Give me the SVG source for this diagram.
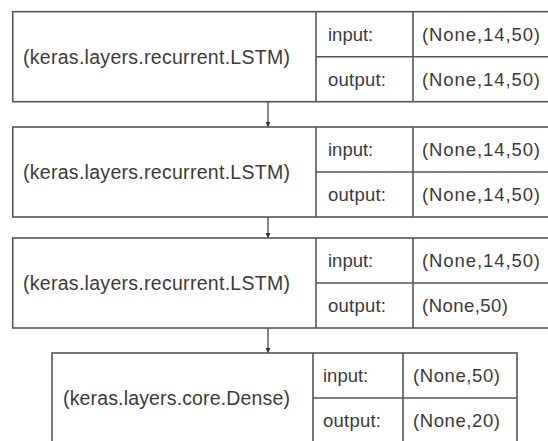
<svg xmlns="http://www.w3.org/2000/svg" width="548" height="441" viewBox="0 0 548 441">
<defs>
<style>
.box{fill:#fff;stroke:#555;stroke-width:1.6}
.ln{stroke:#555;stroke-width:1.6;fill:none}
.t{font-family:"Liberation Sans",Arial,sans-serif;font-size:18.5px;fill:#3a3a3a;dominant-baseline:central}
.lbl{font-size:19.5px}
.conn{stroke:#444;stroke-width:1.3;fill:none}
</style>
<marker id="ah" viewBox="0 0 10 10" refX="10" refY="5" markerWidth="5" markerHeight="5" orient="auto" markerUnits="userSpaceOnUse">
<path d="M0,0 L10,5 L0,10 z" fill="#333"/>
</marker>
</defs>
<rect width="548" height="441" fill="#fff"/>
<g id="connectors">
<line class="conn" x1="268" y1="102" x2="268" y2="127" marker-end="url(#ah)"/>
<line class="conn" x1="268" y1="217" x2="268" y2="238" marker-end="url(#ah)"/>
<line class="conn" x1="268" y1="328" x2="268" y2="353" marker-end="url(#ah)"/>
</g>
<g id="lstm1">
<rect class="box" x="12.7" y="11.7" width="540" height="90"/>
<line class="ln" x1="316" y1="11.7" x2="316" y2="101.7"/>
<line class="ln" x1="413" y1="11.7" x2="413" y2="101.7"/>
<line class="ln" x1="316" y1="56.7" x2="550" y2="56.7"/>
<text class="t lbl" x="23" y="57" textLength="267" lengthAdjust="spacing">(keras.layers.recurrent.LSTM)</text>
<text class="t" x="328" y="34">input:</text>
<text class="t" x="422" y="34" textLength="118" lengthAdjust="spacing">(None,14,50)</text>
<text class="t" x="328" y="79" textLength="58" lengthAdjust="spacing">output:</text>
<text class="t" x="422" y="79" textLength="118" lengthAdjust="spacing">(None,14,50)</text>
</g>
<g id="lstm2">
<rect class="box" x="12.7" y="127" width="540" height="90"/>
<line class="ln" x1="316" y1="127" x2="316" y2="217"/>
<line class="ln" x1="413" y1="127" x2="413" y2="217"/>
<line class="ln" x1="316" y1="172" x2="550" y2="172"/>
<text class="t lbl" x="23" y="172" textLength="267" lengthAdjust="spacing">(keras.layers.recurrent.LSTM)</text>
<text class="t" x="328" y="149.5">input:</text>
<text class="t" x="422" y="149.5" textLength="118" lengthAdjust="spacing">(None,14,50)</text>
<text class="t" x="328" y="194.5" textLength="58" lengthAdjust="spacing">output:</text>
<text class="t" x="422" y="194.5" textLength="118" lengthAdjust="spacing">(None,14,50)</text>
</g>
<g id="lstm3">
<rect class="box" x="12.7" y="238" width="540" height="90"/>
<line class="ln" x1="316" y1="238" x2="316" y2="328"/>
<line class="ln" x1="413" y1="238" x2="413" y2="328"/>
<line class="ln" x1="316" y1="283" x2="550" y2="283"/>
<text class="t lbl" x="23" y="283" textLength="267" lengthAdjust="spacing">(keras.layers.recurrent.LSTM)</text>
<text class="t" x="328" y="260.5">input:</text>
<text class="t" x="422" y="260.5" textLength="118" lengthAdjust="spacing">(None,14,50)</text>
<text class="t" x="328" y="305.5" textLength="58" lengthAdjust="spacing">output:</text>
<text class="t" x="422" y="305.5" textLength="86" lengthAdjust="spacing">(None,50)</text>
</g>
<g id="dense">
<rect class="box" x="52" y="353" width="465" height="90"/>
<line class="ln" x1="313" y1="353" x2="313" y2="443"/>
<line class="ln" x1="403" y1="353" x2="403" y2="443"/>
<line class="ln" x1="313" y1="398" x2="517" y2="398"/>
<text class="t lbl" x="63" y="398" textLength="227" lengthAdjust="spacing">(keras.layers.core.Dense)</text>
<text class="t" x="323" y="375.5">input:</text>
<text class="t" x="413" y="375.5" textLength="87" lengthAdjust="spacing">(None,50)</text>
<text class="t" x="323" y="420.5" textLength="58" lengthAdjust="spacing">output:</text>
<text class="t" x="413" y="420.5" textLength="87" lengthAdjust="spacing">(None,20)</text>
</g>
</svg>
